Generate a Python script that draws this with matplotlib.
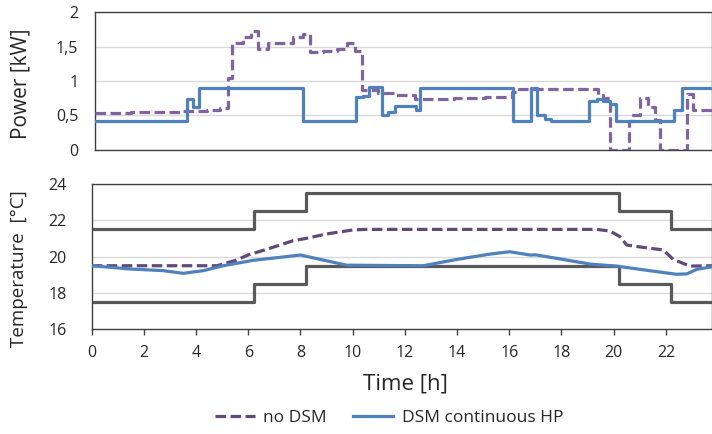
import matplotlib
matplotlib.use("Agg")
import matplotlib.pyplot as plt

plt.rcParams['font.family'] = ['Open Sans', 'DejaVu Sans']

# ---------------- data ----------------
# Power (step curves, value holds from the time until the next time)
p_dsm_t = [0, 3.53, 3.78, 4.01, 8.01, 10.04, 10.3, 10.55, 11.03, 11.25, 11.55,
           12.35, 12.5, 16.07, 16.77, 16.99, 17.3, 17.55, 19.0, 19.3, 19.55,
           19.8, 20.04, 22.27, 22.56, 23.8]
p_dsm_v = [0.42, 0.74, 0.62, 0.90, 0.42, 0.76, 0.78, 0.91, 0.50, 0.55, 0.64,
           0.58, 0.90, 0.42, 0.90, 0.50, 0.45, 0.42, 0.70, 0.73, 0.71,
           0.66, 0.42, 0.58, 0.89, 0.89]

p_nodsm_t = [0, 1.4, 3.3, 4.3, 4.8, 5.1, 5.26, 5.7, 6.0, 6.28, 6.67, 7.63,
             8.0, 8.27, 8.78, 9.3, 9.68, 10.0, 10.26, 10.9, 11.5, 12.3, 13.8,
             15.0, 16.05, 16.3, 19.35, 19.55, 19.8, 20.55, 20.7, 20.96, 21.28,
             21.54, 21.73, 22.78, 23.0, 23.8]
p_nodsm_v = [0.53, 0.55, 0.56, 0.58, 0.60, 1.04, 1.55, 1.64, 1.73, 1.47, 1.55,
             1.64, 1.69, 1.42, 1.44, 1.47, 1.55, 1.43, 0.87, 0.83, 0.80, 0.73,
             0.75, 0.77, 0.84, 0.88, 0.79, 0.75, 0.0, 0.42, 0.50, 0.75, 0.62,
             0.43, 0.0, 0.81, 0.58, 0.58]

# Comfort band (step curves)
band_t = [0, 6.2, 8.2, 20.2, 22.2, 23.8]
band_upper = [21.5, 22.5, 23.5, 22.5, 21.5, 21.5]
band_lower = [17.5, 18.5, 19.5, 18.5, 17.5, 17.5]

# Indoor temperature
T_nodsm_t = [0, 4.8, 5.55, 6.0, 6.7, 7.72, 8.2, 9.0, 10.0, 10.5, 19.35, 19.86,
             20.24, 20.5, 21.13, 21.9, 22.28, 22.92, 23.8]
T_nodsm_v = [19.5, 19.5, 19.81, 20.1, 20.4, 20.88, 21.0, 21.25, 21.47, 21.5,
             21.5, 21.41, 21.1, 20.64, 20.51, 20.37, 19.85, 19.48, 19.5]

T_dsm_t = [0, 1.47, 2.74, 3.51, 4.28, 5.04, 6.2, 7.2, 8.0, 8.75, 9.77, 12.7,
           14.0, 15.26, 16.0, 16.8, 17.0, 17.8, 19.1, 20.1, 21.37, 22.4, 22.8,
           23.18, 23.8]
T_dsm_v = [19.5, 19.32, 19.23, 19.08, 19.23, 19.5, 19.8, 19.96, 20.09, 19.85,
           19.53, 19.5, 19.85, 20.14, 20.27, 20.09, 20.1, 19.91, 19.59, 19.48,
           19.23, 19.03, 19.05, 19.3, 19.45]

x_ticks = [0, 2, 4, 6, 8, 10, 12, 14, 16, 18, 20, 22]
p_ticks = [0, 0.5, 1, 1.5, 2]
p_ticklabels = ["0", "0,5", "1", "1,5", "2"]
T_ticks = [16, 18, 20, 22, 24]

# ---------------- style ----------------
C_BLUE = "#4F81BD"
C_PURPLE = "#8064A2"
C_PURPLE_D = "#604A7B"
C_GRAY = "#595959"
C_FRAME = "#404040"
C_GRID = "#D9D9D9"
C_TEXT = "#262626"

fig = plt.figure(figsize=(7.12, 4.34), dpi=100)
ax1 = fig.add_axes([95/712, 1-149.5/434, (712-95)/712, (149.5-12.3)/434])
ax2 = fig.add_axes([91.7/712, 1-329.3/434, (712-91.7)/712, (329.3-184)/434])

dash = (3.3, 1.4)
lw = 2.3

# top
ax1.step(p_nodsm_t, p_nodsm_v, where='post', color=C_PURPLE, lw=lw,
         dashes=dash, zorder=3)
ax1.step(p_dsm_t, p_dsm_v, where='post', color=C_BLUE, lw=lw, zorder=4)
ax1.set_xlim(0, 617/26.0)
ax1.set_ylim(0, 2)
ax1.set_yticks(p_ticks)
ax1.set_yticklabels(p_ticklabels)
ax1.set_xticks([])
ax1.grid(axis='y', color=C_GRID, lw=1)
ax1.set_axisbelow(True)

# bottom
ax2.step(band_t, band_upper, where='post', color=C_GRAY, lw=lw, zorder=2)
ax2.step(band_t, band_lower, where='post', color=C_GRAY, lw=lw, zorder=2)
ax2.plot(T_nodsm_t, T_nodsm_v, color=C_PURPLE_D, lw=lw, dashes=dash, zorder=3)
ax2.plot(T_dsm_t, T_dsm_v, color=C_BLUE, lw=lw, zorder=4)
ax2.set_xlim(0, 620.3/26.1)
ax2.set_ylim(16, 24)
ax2.set_yticks(T_ticks)
ax2.set_xticks(x_ticks)
ax2.grid(axis='y', color=C_GRID, lw=1)
ax2.set_axisbelow(True)

for ax in (ax1, ax2):
    for s in ax.spines.values():
        s.set_color(C_FRAME)
        s.set_linewidth(1.0)
    ax.tick_params(axis='y', length=0, labelsize=11.5, colors=C_TEXT)
ax1.tick_params(axis='y', pad=12)
ax2.tick_params(axis='y', pad=18)
ax2.tick_params(axis='x', length=4, width=1, color=C_FRAME, direction='out',
                labelsize=11.5, labelcolor=C_TEXT, pad=7)

fig.text(21/712, 1-84/434, "Power [kW]", rotation=90, ha='center', va='center',
         fontsize=15, color=C_TEXT)
fig.text(19/712, 1-269/434, "Temperature  [°C]", rotation=90, ha='center',
         va='center', fontsize=13.5, color=C_TEXT)
fig.text(405/712, 1-384/434, "Time [h]", ha='center', va='center', fontsize=16,
         color=C_TEXT)

h1, = ax2.plot([], [], color=C_PURPLE_D, lw=lw, dashes=dash, label="no DSM")
h2, = ax2.plot([], [], color=C_BLUE, lw=lw, label="DSM continuous HP")
fig.legend(handles=[h1, h2], loc='center', bbox_to_anchor=(389/712, 1-418/434),
           ncol=2, frameon=False, fontsize=12.5, handlelength=2.3,
           columnspacing=1.5, handletextpad=0.5, labelcolor=C_TEXT)

fig.savefig("out.png", dpi=100)
